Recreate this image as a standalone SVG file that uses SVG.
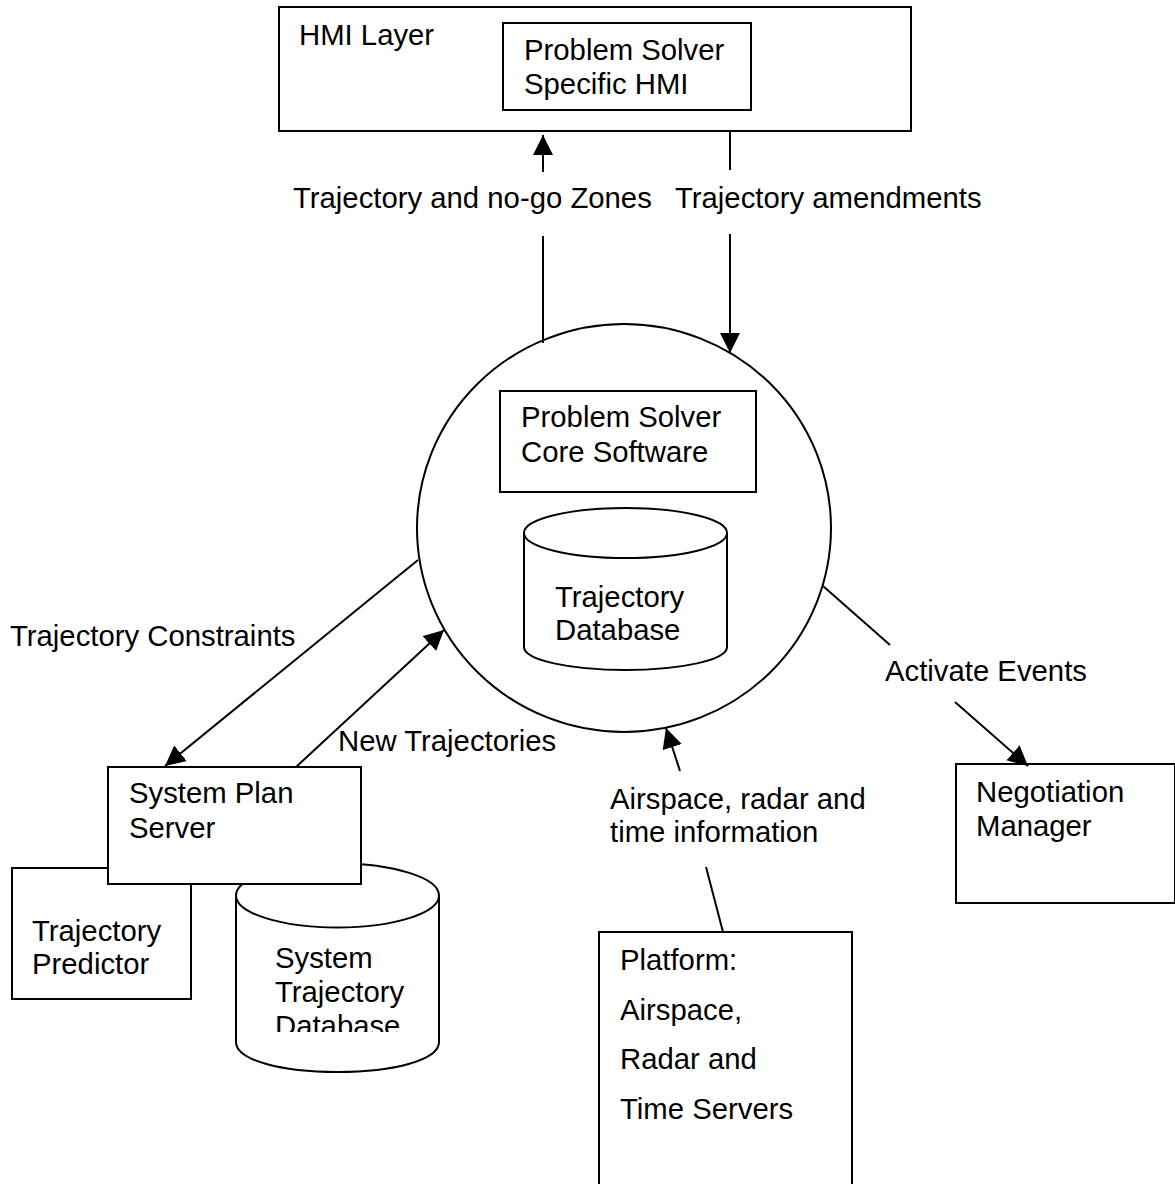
<svg xmlns="http://www.w3.org/2000/svg" width="1175" height="1184" viewBox="0 0 1175 1184">
<defs><marker id="a" markerUnits="userSpaceOnUse" markerWidth="22" markerHeight="22" refX="20" refY="10" orient="auto"><path d="M0 0L20 10L0 20z" fill="#000"/></marker></defs>
<style>.s{fill:#fff;stroke:#000;stroke-width:2}.l{fill:none;stroke:#000;stroke-width:2}text{font-family:"Liberation Sans",Arial,sans-serif;font-size:29.3px;fill:#000}</style>
<rect width="1175" height="1184" fill="#fff"/>
<g id="hmi"><rect class="s" x="279" y="7" width="632" height="124"/><text x="299" y="45">HMI Layer</text></g>
<g id="hmi-specific"><rect class="s" x="503" y="23" width="248" height="87"/><text x="524" y="60">Problem Solver</text><text x="524" y="94">Specific HMI</text></g>
<g id="core"><ellipse class="s" cx="624" cy="528" rx="207" ry="204"/></g>
<g id="core-software"><rect class="s" x="500" y="391" width="256" height="101"/><text x="521" y="427">Problem Solver</text><text x="521" y="462">Core Software</text></g>
<g id="trajectory-db"><path class="s" d="M524 533V647C524 660 570 670 625.500 670S727 660 727 647V533"/><ellipse class="s" cx="625.500" cy="533" rx="101.500" ry="25"/><text x="555" y="607">Trajectory</text><text x="555" y="640">Database</text></g>
<g id="predictor"><rect class="s" x="12" y="868" width="179" height="131"/><text x="32" y="941">Trajectory</text><text x="32" y="974">Predictor</text></g>
<g id="system-db"><path class="s" d="M236 895V1042C236 1060 281 1072 337.500 1072S439 1060 439 1042V895"/><ellipse class="s" cx="337.500" cy="895.500" rx="101.500" ry="32"/><text x="275" y="968">System</text><text x="275" y="1002">Trajectory</text><text x="275" y="1036">Database</text><rect x="260" y="1032" width="150" height="12" fill="#fff"/></g>
<g id="plan-server"><rect class="s" x="108" y="767" width="253" height="117"/><text x="129" y="803">System Plan</text><text x="129" y="838">Server</text></g>
<g id="negotiation"><rect class="s" x="956" y="764" width="219" height="139"/><text x="976" y="802">Negotiation</text><text x="976" y="836">Manager</text></g>
<g id="platform"><path class="s" d="M599 1184V932H852V1184"/><text x="620" y="970">Platform:</text><text x="620" y="1020">Airspace,</text><text x="620" y="1069">Radar and</text><text x="620" y="1119">Time Servers</text></g>
<g id="connectors">
<path class="l" d="M543 343V236"/><path class="l" d="M543 172V135" marker-end="url(#a)"/>
<path class="l" d="M730 132V170"/><path class="l" d="M730 234V353" marker-end="url(#a)"/>
<path class="l" d="M418 560L165 766" marker-end="url(#a)"/>
<path class="l" d="M296 767L444 630" marker-end="url(#a)"/>
<path class="l" d="M823 586L890 645"/><path class="l" d="M955 702L1028 766" marker-end="url(#a)"/>
<path class="l" d="M680 771L666 728" marker-end="url(#a)"/>
<path class="l" d="M723 932L706 867"/>
</g>
<g id="labels"><text x="293" y="208">Trajectory and no-go Zones</text><text x="675" y="208">Trajectory amendments</text><text x="10" y="646">Trajectory Constraints</text><text x="338" y="751">New Trajectories</text><text x="885" y="681">Activate Events</text><text x="610" y="809">Airspace, radar and</text><text x="610" y="842">time information</text></g>
</svg>
